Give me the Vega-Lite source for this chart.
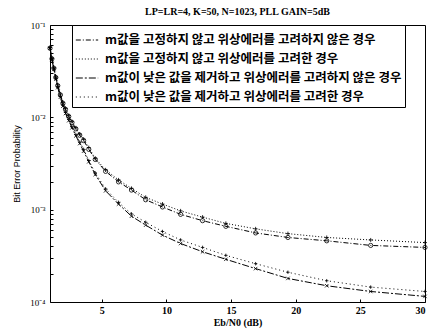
{
  "$schema": "https://vega.github.io/schema/vega-lite/v6.json",
  "width": 375,
  "height": 277,
  "autosize": "none",
  "padding": {"left": 50, "right": 5, "top": 25, "bottom": 31},
  "background": "white",
  "title": {"text": "LP=LR=4, K=50, N=1023,  PLL GAIN=5dB", "font": "Liberation Serif", "fontSize": 10, "fontWeight": "bold", "color": "black", "offset": 4, "anchor": "middle"},
  "config": {
    "view": {"stroke": "black", "strokeWidth": 1},
    "axis": {"domain": false, "grid": false, "tickColor": "black", "labelColor": "black", "titleColor": "black", "labelFont": "Liberation Serif", "labelFontWeight": "bold", "labelFontSize": 10, "titleFont": "Liberation Sans", "titleFontSize": 9, "titleFontWeight": "normal"}
  },
  "datasets": {
    "ber": [
      {"s": "m값을 고정하지 않고 위상에러를 고려하지 않은 경우", "x": 1, "p": 0.056},
      {"s": "m값을 고정하지 않고 위상에러를 고려하지 않은 경우", "x": 1.15, "p": 0.043},
      {"s": "m값을 고정하지 않고 위상에러를 고려하지 않은 경우", "x": 1.3, "p": 0.034},
      {"s": "m값을 고정하지 않고 위상에러를 고려하지 않은 경우", "x": 1.45, "p": 0.027},
      {"s": "m값을 고정하지 않고 위상에러를 고려하지 않은 경우", "x": 1.6, "p": 0.022},
      {"s": "m값을 고정하지 않고 위상에러를 고려하지 않은 경우", "x": 1.8, "p": 0.0175},
      {"s": "m값을 고정하지 않고 위상에러를 고려하지 않은 경우", "x": 2, "p": 0.0142},
      {"s": "m값을 고정하지 않고 위상에러를 고려하지 않은 경우", "x": 2.2, "p": 0.0122},
      {"s": "m값을 고정하지 않고 위상에러를 고려하지 않은 경우", "x": 2.45, "p": 0.0102},
      {"s": "m값을 고정하지 않고 위상에러를 고려하지 않은 경우", "x": 2.7, "p": 0.0088},
      {"s": "m값을 고정하지 않고 위상에러를 고려하지 않은 경우", "x": 3, "p": 0.0075},
      {"s": "m값을 고정하지 않고 위상에러를 고려하지 않은 경우", "x": 3.3, "p": 0.0064},
      {"s": "m값을 고정하지 않고 위상에러를 고려하지 않은 경우", "x": 3.6, "p": 0.0056},
      {"s": "m값을 고정하지 않고 위상에러를 고려하지 않은 경우", "x": 4, "p": 0.0045},
      {"s": "m값을 고정하지 않고 위상에러를 고려하지 않은 경우", "x": 4.5, "p": 0.0035},
      {"s": "m값을 고정하지 않고 위상에러를 고려하지 않은 경우", "x": 5.3, "p": 0.0026},
      {"s": "m값을 고정하지 않고 위상에러를 고려하지 않은 경우", "x": 6.3, "p": 0.002},
      {"s": "m값을 고정하지 않고 위상에러를 고려하지 않은 경우", "x": 7.3, "p": 0.00163},
      {"s": "m값을 고정하지 않고 위상에러를 고려하지 않은 경우", "x": 8.4, "p": 0.00128},
      {"s": "m값을 고정하지 않고 위상에러를 고려하지 않은 경우", "x": 9.7, "p": 0.00107},
      {"s": "m값을 고정하지 않고 위상에러를 고려하지 않은 경우", "x": 11.1, "p": 0.00089},
      {"s": "m값을 고정하지 않고 위상에러를 고려하지 않은 경우", "x": 12.8, "p": 0.00076},
      {"s": "m값을 고정하지 않고 위상에러를 고려하지 않은 경우", "x": 14.6, "p": 0.00066},
      {"s": "m값을 고정하지 않고 위상에러를 고려하지 않은 경우", "x": 16.9, "p": 0.00056},
      {"s": "m값을 고정하지 않고 위상에러를 고려하지 않은 경우", "x": 19.4, "p": 0.0005},
      {"s": "m값을 고정하지 않고 위상에러를 고려하지 않은 경우", "x": 22.4, "p": 0.00046},
      {"s": "m값을 고정하지 않고 위상에러를 고려하지 않은 경우", "x": 25.8, "p": 0.00041},
      {"s": "m값을 고정하지 않고 위상에러를 고려하지 않은 경우", "x": 30, "p": 0.00039},

      {"s": "m값을 고정하지 않고 위상에러를 고려한 경우", "x": 1, "p": 0.057},
      {"s": "m값을 고정하지 않고 위상에러를 고려한 경우", "x": 1.15, "p": 0.044},
      {"s": "m값을 고정하지 않고 위상에러를 고려한 경우", "x": 1.3, "p": 0.0345},
      {"s": "m값을 고정하지 않고 위상에러를 고려한 경우", "x": 1.45, "p": 0.0275},
      {"s": "m값을 고정하지 않고 위상에러를 고려한 경우", "x": 1.6, "p": 0.0225},
      {"s": "m값을 고정하지 않고 위상에러를 고려한 경우", "x": 1.8, "p": 0.0179},
      {"s": "m값을 고정하지 않고 위상에러를 고려한 경우", "x": 2, "p": 0.0145},
      {"s": "m값을 고정하지 않고 위상에러를 고려한 경우", "x": 2.2, "p": 0.0125},
      {"s": "m값을 고정하지 않고 위상에러를 고려한 경우", "x": 2.45, "p": 0.0105},
      {"s": "m값을 고정하지 않고 위상에러를 고려한 경우", "x": 2.7, "p": 0.009},
      {"s": "m값을 고정하지 않고 위상에러를 고려한 경우", "x": 3, "p": 0.0077},
      {"s": "m값을 고정하지 않고 위상에러를 고려한 경우", "x": 3.3, "p": 0.0066},
      {"s": "m값을 고정하지 않고 위상에러를 고려한 경우", "x": 3.6, "p": 0.0058},
      {"s": "m값을 고정하지 않고 위상에러를 고려한 경우", "x": 4, "p": 0.0047},
      {"s": "m값을 고정하지 않고 위상에러를 고려한 경우", "x": 4.5, "p": 0.0036},
      {"s": "m값을 고정하지 않고 위상에러를 고려한 경우", "x": 5.3, "p": 0.0027},
      {"s": "m값을 고정하지 않고 위상에러를 고려한 경우", "x": 6.3, "p": 0.0021},
      {"s": "m값을 고정하지 않고 위상에러를 고려한 경우", "x": 7.3, "p": 0.0017},
      {"s": "m값을 고정하지 않고 위상에러를 고려한 경우", "x": 8.4, "p": 0.00136},
      {"s": "m값을 고정하지 않고 위상에러를 고려한 경우", "x": 9.7, "p": 0.00115},
      {"s": "m값을 고정하지 않고 위상에러를 고려한 경우", "x": 11.1, "p": 0.00097},
      {"s": "m값을 고정하지 않고 위상에러를 고려한 경우", "x": 12.8, "p": 0.00083},
      {"s": "m값을 고정하지 않고 위상에러를 고려한 경우", "x": 14.6, "p": 0.00071},
      {"s": "m값을 고정하지 않고 위상에러를 고려한 경우", "x": 16.9, "p": 0.00062},
      {"s": "m값을 고정하지 않고 위상에러를 고려한 경우", "x": 19.4, "p": 0.00055},
      {"s": "m값을 고정하지 않고 위상에러를 고려한 경우", "x": 22.4, "p": 0.0005},
      {"s": "m값을 고정하지 않고 위상에러를 고려한 경우", "x": 25.8, "p": 0.00047},
      {"s": "m값을 고정하지 않고 위상에러를 고려한 경우", "x": 30, "p": 0.00044},

      {"s": "m값이 낮은 값을 제거하고 위상에러를 고려하지 않은 경우", "x": 1, "p": 0.056},
      {"s": "m값이 낮은 값을 제거하고 위상에러를 고려하지 않은 경우", "x": 1.15, "p": 0.042},
      {"s": "m값이 낮은 값을 제거하고 위상에러를 고려하지 않은 경우", "x": 1.3, "p": 0.033},
      {"s": "m값이 낮은 값을 제거하고 위상에러를 고려하지 않은 경우", "x": 1.45, "p": 0.026},
      {"s": "m값이 낮은 값을 제거하고 위상에러를 고려하지 않은 경우", "x": 1.6, "p": 0.021},
      {"s": "m값이 낮은 값을 제거하고 위상에러를 고려하지 않은 경우", "x": 1.8, "p": 0.0165},
      {"s": "m값이 낮은 값을 제거하고 위상에러를 고려하지 않은 경우", "x": 2, "p": 0.0132},
      {"s": "m값이 낮은 값을 제거하고 위상에러를 고려하지 않은 경우", "x": 2.2, "p": 0.011},
      {"s": "m값이 낮은 값을 제거하고 위상에러를 고려하지 않은 경우", "x": 2.45, "p": 0.0092},
      {"s": "m값이 낮은 값을 제거하고 위상에러를 고려하지 않은 경우", "x": 2.7, "p": 0.0077},
      {"s": "m값이 낮은 값을 제거하고 위상에러를 고려하지 않은 경우", "x": 3, "p": 0.0063},
      {"s": "m값이 낮은 값을 제거하고 위상에러를 고려하지 않은 경우", "x": 3.3, "p": 0.0052},
      {"s": "m값이 낮은 값을 제거하고 위상에러를 고려하지 않은 경우", "x": 3.6, "p": 0.0043},
      {"s": "m값이 낮은 값을 제거하고 위상에러를 고려하지 않은 경우", "x": 4, "p": 0.0033},
      {"s": "m값이 낮은 값을 제거하고 위상에러를 고려하지 않은 경우", "x": 4.5, "p": 0.0024},
      {"s": "m값이 낮은 값을 제거하고 위상에러를 고려하지 않은 경우", "x": 5.3, "p": 0.0016},
      {"s": "m값이 낮은 값을 제거하고 위상에러를 고려하지 않은 경우", "x": 6.3, "p": 0.00115},
      {"s": "m값이 낮은 값을 제거하고 위상에러를 고려하지 않은 경우", "x": 7.3, "p": 0.00085},
      {"s": "m값이 낮은 값을 제거하고 위상에러를 고려하지 않은 경우", "x": 8.4, "p": 0.00068},
      {"s": "m값이 낮은 값을 제거하고 위상에러를 고려하지 않은 경우", "x": 9.7, "p": 0.00053},
      {"s": "m값이 낮은 값을 제거하고 위상에러를 고려하지 않은 경우", "x": 11.1, "p": 0.00043},
      {"s": "m값이 낮은 값을 제거하고 위상에러를 고려하지 않은 경우", "x": 12.8, "p": 0.00035},
      {"s": "m값이 낮은 값을 제거하고 위상에러를 고려하지 않은 경우", "x": 14.6, "p": 0.00029},
      {"s": "m값이 낮은 값을 제거하고 위상에러를 고려하지 않은 경우", "x": 16.9, "p": 0.00023},
      {"s": "m값이 낮은 값을 제거하고 위상에러를 고려하지 않은 경우", "x": 19.4, "p": 0.00018},
      {"s": "m값이 낮은 값을 제거하고 위상에러를 고려하지 않은 경우", "x": 22.4, "p": 0.00015},
      {"s": "m값이 낮은 값을 제거하고 위상에러를 고려하지 않은 경우", "x": 25.8, "p": 0.00013},
      {"s": "m값이 낮은 값을 제거하고 위상에러를 고려하지 않은 경우", "x": 30, "p": 0.000115},

      {"s": "m값이 낮은 값을 제거하고 위상에러를 고려한 경우", "x": 1, "p": 0.057},
      {"s": "m값이 낮은 값을 제거하고 위상에러를 고려한 경우", "x": 1.15, "p": 0.043},
      {"s": "m값이 낮은 값을 제거하고 위상에러를 고려한 경우", "x": 1.3, "p": 0.0335},
      {"s": "m값이 낮은 값을 제거하고 위상에러를 고려한 경우", "x": 1.45, "p": 0.0265},
      {"s": "m값이 낮은 값을 제거하고 위상에러를 고려한 경우", "x": 1.6, "p": 0.0214},
      {"s": "m값이 낮은 값을 제거하고 위상에러를 고려한 경우", "x": 1.8, "p": 0.0168},
      {"s": "m값이 낮은 값을 제거하고 위상에러를 고려한 경우", "x": 2, "p": 0.0135},
      {"s": "m값이 낮은 값을 제거하고 위상에러를 고려한 경우", "x": 2.2, "p": 0.0113},
      {"s": "m값이 낮은 값을 제거하고 위상에러를 고려한 경우", "x": 2.45, "p": 0.0095},
      {"s": "m값이 낮은 값을 제거하고 위상에러를 고려한 경우", "x": 2.7, "p": 0.0079},
      {"s": "m값이 낮은 값을 제거하고 위상에러를 고려한 경우", "x": 3, "p": 0.0065},
      {"s": "m값이 낮은 값을 제거하고 위상에러를 고려한 경우", "x": 3.3, "p": 0.0054},
      {"s": "m값이 낮은 값을 제거하고 위상에러를 고려한 경우", "x": 3.6, "p": 0.0045},
      {"s": "m값이 낮은 값을 제거하고 위상에러를 고려한 경우", "x": 4, "p": 0.0034},
      {"s": "m값이 낮은 값을 제거하고 위상에러를 고려한 경우", "x": 4.5, "p": 0.0025},
      {"s": "m값이 낮은 값을 제거하고 위상에러를 고려한 경우", "x": 5.3, "p": 0.00168},
      {"s": "m값이 낮은 값을 제거하고 위상에러를 고려한 경우", "x": 6.3, "p": 0.0012},
      {"s": "m값이 낮은 값을 제거하고 위상에러를 고려한 경우", "x": 7.3, "p": 0.0009},
      {"s": "m값이 낮은 값을 제거하고 위상에러를 고려한 경우", "x": 8.4, "p": 0.00073},
      {"s": "m값이 낮은 값을 제거하고 위상에러를 고려한 경우", "x": 9.7, "p": 0.00058},
      {"s": "m값이 낮은 값을 제거하고 위상에러를 고려한 경우", "x": 11.1, "p": 0.00047},
      {"s": "m값이 낮은 값을 제거하고 위상에러를 고려한 경우", "x": 12.8, "p": 0.00039},
      {"s": "m값이 낮은 값을 제거하고 위상에러를 고려한 경우", "x": 14.6, "p": 0.00032},
      {"s": "m값이 낮은 값을 제거하고 위상에러를 고려한 경우", "x": 16.9, "p": 0.00026},
      {"s": "m값이 낮은 값을 제거하고 위상에러를 고려한 경우", "x": 19.4, "p": 0.00021},
      {"s": "m값이 낮은 값을 제거하고 위상에러를 고려한 경우", "x": 22.4, "p": 0.00017},
      {"s": "m값이 낮은 값을 제거하고 위상에러를 고려한 경우", "x": 25.8, "p": 0.000145},
      {"s": "m값이 낮은 값을 제거하고 위상에러를 고려한 경우", "x": 30, "p": 0.00013}
    ]
  },
  "data": {"name": "ber"},
  "encoding": {
    "x": {"field": "x", "type": "quantitative", "scale": {"domain": [1, 30], "nice": false, "zero": false},
      "axis": {"values": [5, 10, 15, 20, 25, 30], "tickSize": -3, "labelPadding": 6, "title": "Eb/N0 (dB)", "titlePadding": 2, "titleFont": "Liberation Serif", "titleFontWeight": "bold", "titleFontSize": 10}},
    "y": {"field": "p", "type": "quantitative", "scale": {"type": "log", "domain": [0.0001, 0.1], "nice": false},
      "axis": {"values": [0.0001, 0.0002, 0.0003, 0.0004, 0.0005, 0.0006, 0.0007, 0.0008, 0.0009, 0.001, 0.002, 0.003, 0.004, 0.005, 0.006, 0.007, 0.008, 0.009, 0.01, 0.02, 0.03, 0.04, 0.05, 0.06, 0.07, 0.08, 0.09, 0.1],
        "labelExpr": "datum.value == 0.1 ? '10⁻¹' : datum.value == 0.01 ? '10⁻²' : datum.value == 0.001 ? '10⁻³' : datum.value == 0.0001 ? '10⁻⁴' : ''",
        "tickSize": -3, "labelPadding": 8, "labelFontSize": 9, "labelFontWeight": "normal", "title": "Bit Error Probability", "titlePadding": 8}}
  },
  "layer": [
    {
      "mark": {"type": "line", "color": "black", "strokeWidth": 1},
      "encoding": {
        "strokeDash": {"field": "s", "type": "nominal",
          "scale": {"domain": ["m값을 고정하지 않고 위상에러를 고려하지 않은 경우", "m값을 고정하지 않고 위상에러를 고려한 경우", "m값이 낮은 값을 제거하고 위상에러를 고려하지 않은 경우", "m값이 낮은 값을 제거하고 위상에러를 고려한 경우"],
            "range": [[5, 2, 1, 2], [1, 2], [7, 2, 2, 2], [1, 3]]},
          "legend": {"title": null, "orient": "none", "legendX": 22, "legendY": 0, "symbolType": "stroke", "symbolSize": 500, "symbolStrokeWidth": 1, "symbolStrokeColor": "black",
            "labelFont": "Noto Sans CJK KR", "labelFontSize": 12.5, "labelFontWeight": "bold", "labelColor": "black", "labelLimit": 0, "rowPadding": 0, "padding": 3, "strokeColor": "black", "fillColor": "white", "cornerRadius": 0, "labelOffset": 6}}
      }
    },
    {
      "transform": [{"filter": "datum.s == 'm값을 고정하지 않고 위상에러를 고려하지 않은 경우'"}],
      "mark": {"type": "point", "shape": "circle", "filled": false, "color": "black", "size": 18, "strokeWidth": 0.8, "opacity": 1}
    },
    {
      "transform": [{"filter": "datum.s == 'm값을 고정하지 않고 위상에러를 고려한 경우'"}],
      "mark": {"type": "point", "shape": "M-1,0L1,0M0,-1L0,1", "filled": false, "color": "black", "size": 16, "strokeWidth": 0.8, "opacity": 1}
    },
    {
      "transform": [{"filter": "datum.s == 'm값이 낮은 값을 제거하고 위상에러를 고려하지 않은 경우'"}],
      "mark": {"type": "point", "shape": "M-1,-1L1,1M-1,1L1,-1", "filled": false, "color": "black", "size": 12, "strokeWidth": 0.8, "opacity": 1}
    },
    {
      "transform": [{"filter": "datum.s == 'm값이 낮은 값을 제거하고 위상에러를 고려한 경우'"}],
      "mark": {"type": "point", "shape": "M-1,0L1,0M0,-1L0,1", "filled": false, "color": "black", "size": 12, "strokeWidth": 0.8, "opacity": 1}
    }
  ]
}
